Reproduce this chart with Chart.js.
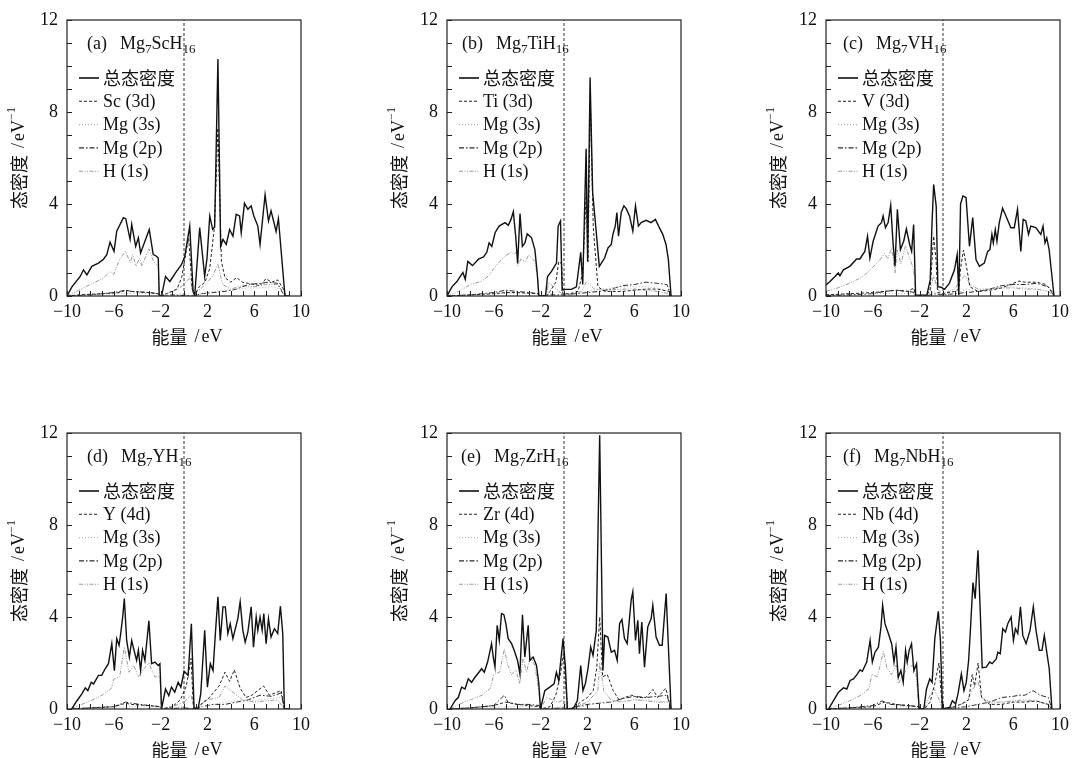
<!DOCTYPE html>
<html>
<head>
<meta charset="utf-8">
<script src="https://cdn.jsdelivr.net/npm/chart.js@4.4.1/dist/chart.umd.min.js"></script>
<style>
  html, body { margin: 0; padding: 0; background: #fff; overflow: hidden; }
  #wrap { position: relative; width: 1074px; height: 758px; }
  canvas { position: absolute; }
</style>
</head>
<body>
<div id="wrap">
  <canvas id="p0" width="315" height="346" style="left:0;top:0"></canvas>
  <canvas id="p1" width="315" height="346" style="left:380px;top:0"></canvas>
  <canvas id="p2" width="315" height="346" style="left:759px;top:0"></canvas>
  <canvas id="p3" width="315" height="346" style="left:0;top:413px"></canvas>
  <canvas id="p4" width="315" height="346" style="left:380px;top:413px"></canvas>
  <canvas id="p5" width="315" height="346" style="left:759px;top:413px"></canvas>
</div>
<script>
// density of states for Mg7MH16: [energy eV, DOS]

const panelLetters = ['(a)', '(b)', '(c)', '(d)', '(e)', '(f)'];
// formula pieces, odd entries are subscripts
const formulas = [
  ['Mg', '7', 'ScH', '16'],
  ['Mg', '7', 'TiH', '16'],
  ['Mg', '7', 'VH', '16'],
  ['Mg', '7', 'YH', '16'],
  ['Mg', '7', 'ZrH', '16'],
  ['Mg', '7', 'NbH', '16']
];
const dNames = ['Sc (3d)', 'Ti (3d)', 'V (3d)', 'Y (4d)', 'Zr (4d)', 'Nb (4d)'];
const otherNames = ['总态密度', 'Mg (3s)', 'Mg (2p)', 'H (1s)'];
const xTickLabels = [-10, -6, -2, 2, 6, 10];
const yTickLabels = [0, 4, 8, 12];
const fermiLevel = 0;

// (a) Mg7ScH16
const aTotal = [[-10,0],[-9.58,0.4],[-8.87,0.85],[-8.59,1.14],[-8.3,0.92],[-7.88,1.29],[-7.31,1.43],[-6.88,1.6],[-6.6,1.8],[-6.32,2.34],[-5.98,1.94],[-5.75,2.82],[-5.18,3.41],[-4.98,3.36],[-4.61,2.46],[-4.47,3.11],[-4.13,2.16],[-3.9,2.53],[-3.71,1.87],[-3.34,2.38],[-2.97,2.89],[-2.63,1.8],[-2.35,1.73],[-2.2,1.65],[-2.12,0.04],[-1.92,0],[-1.58,0.85],[-1.21,0.63],[-0.64,1.07],[-0.22,1.36],[0.07,1.73],[0.49,3.04],[0.78,0.19],[0.92,0.04],[1.34,2.97],[1.77,0.85],[1.97,1.65],[2.2,3.48],[2.45,2.9],[2.62,3.0],[2.9,10.3],[3.13,2.16],[3.33,2.46],[3.61,2.24],[3.9,2.89],[4.18,2.6],[4.46,3.55],[4.75,3.48],[4.89,2.75],[5.17,4.03],[5.46,3.77],[5.74,3.92],[5.97,3.48],[6.31,3.04],[6.5,2.24],[6.93,4.4],[7.22,3.26],[7.44,3.7],[7.73,3.11],[7.87,2.8],[8.07,3.36],[8.63,0],[9.0,0]];
const aD = [[-10,0],[-9,0.05],[-7,0.1],[-5.5,0.15],[-5,0.25],[-4.5,0.2],[-3,0.15],[-2.2,0.1],[-2,0],[-1.5,0.1],[-0.6,0.3],[-0.2,0.8],[0.2,2.0],[0.4,2.5],[0.7,0.3],[0.9,0.05],[1.3,0.4],[1.8,0.6],[2.2,1.2],[2.6,3.0],[2.9,7.3],[3.2,1.5],[3.5,0.8],[4.0,0.6],[4.5,0.8],[5,0.6],[5.5,0.55],[6,0.5],[6.5,0.45],[7,0.75],[7.5,0.6],[8,0.7],[8.5,0.3],[8.7,0]];
const aMg3s = [[-10,0],[-8,0.05],[-6,0.1],[-4,0.12],[-2.2,0.1],[-2.1,0],[-1,0.05],[0,0.1],[0.8,0],[1.5,0.1],[2.5,0.2],[3.5,0.25],[4.5,0.3],[5.5,0.35],[6.5,0.35],[7.5,0.4],[8.3,0.3],[8.6,0]];
const aMg2p = [[-10,0],[-8,0.05],[-6,0.15],[-5,0.25],[-4.5,0.2],[-3,0.15],[-2.2,0.1],[-2.1,0],[-1,0.05],[0.8,0],[1.5,0.1],[2.5,0.15],[3.5,0.2],[4.5,0.3],[5.5,0.5],[6.5,0.55],[7.2,0.6],[8,0.55],[8.6,0]];
const aH1s = [[-10,0],[-9,0.25],[-8,0.5],[-7,0.75],[-6.3,1.05],[-6,0.95],[-5.5,1.6],[-5,1.95],[-4.6,1.45],[-4.4,1.8],[-4.1,1.3],[-3.8,1.65],[-3.6,1.3],[-3,2.05],[-2.6,1.5],[-2.2,1.3],[-2.1,0],[-1.5,0.1],[-0.5,0.3],[0,0.5],[0.5,0.8],[0.8,0.05],[1.4,0.3],[2,0.6],[2.5,0.9],[2.9,1.4],[3.3,0.5],[4,0.3],[5,0.45],[6,0.4],[7,0.5],[8,0.5],[8.6,0]];

// (b) Mg7TiH16
const bTotal = [[-10,0],[-9.58,0.4],[-9.15,0.63],[-8.87,0.85],[-8.64,1.02],[-8.44,0.73],[-8.22,1.5],[-7.82,1.32],[-7.31,1.6],[-6.88,1.7],[-6.6,1.9],[-6.4,2.31],[-6.17,2.16],[-5.89,2.75],[-5.55,3.04],[-5.04,3.19],[-4.76,3.07],[-4.53,3.33],[-4.33,3.67],[-4.13,2.6],[-3.96,1.43],[-3.76,3.58],[-3.56,2.16],[-3.34,2.31],[-3.14,2.7],[-2.77,2.53],[-2.49,2.02],[-2.29,1.0],[-2.15,0],[-1.58,0],[-1.41,0.85],[-1.07,1.07],[-0.64,1.43],[-0.5,3.04],[-0.3,3.26],[-0.16,0.26],[0.01,0.29],[0.63,0.29],[1.06,0.4],[1.43,1.9],[1.6,0.5],[1.89,6.4],[2.02,1.5],[2.23,9.5],[2.45,4.5],[3.02,1.29],[3.47,1.65],[3.76,2.09],[4.04,2.24],[4.18,2.68],[4.38,3.04],[4.52,3.63],[4.66,2.6],[4.89,3.63],[5.12,3.92],[5.32,3.8],[5.6,3.48],[5.88,2.82],[6.11,3.92],[6.36,3.04],[6.59,3.19],[7.02,3.29],[7.44,3.19],[7.81,3.33],[8.15,2.97],[8.44,2.68],[8.72,2.24],[8.92,1.58],[9.15,0]];
const bD = [[-10,0],[-8,0.05],[-6,0.1],[-5,0.15],[-4,0.15],[-2.2,0.1],[-2.1,0],[-1.5,0],[-1.2,0.2],[-0.7,0.6],[-0.45,1.5],[-0.2,1.4],[-0.1,0.1],[0.5,0.1],[1.2,0.2],[1.6,1.0],[1.9,4.5],[2.05,1.5],[2.25,8.5],[2.5,3.0],[2.9,0.4],[3.5,0.2],[5,0.2],[6,0.25],[7,0.3],[8,0.3],[9,0.2],[9.15,0]];
const bMg3s = [[-10,0],[-8,0.05],[-6,0.1],[-4,0.12],[-2.2,0.1],[-2,0],[-1.3,0.1],[-0.5,0.2],[0,0.05],[1,0.1],[2,0.2],[3,0.3],[4,0.35],[5,0.4],[6,0.4],[7,0.4],[8,0.35],[9,0.2],[9.15,0]];
const bMg2p = [[-10,0],[-8,0.05],[-6,0.15],[-5,0.25],[-4,0.2],[-3,0.15],[-2.2,0.1],[-2,0],[-1.3,0.05],[0,0.05],[1,0.1],[2,0.15],[3,0.2],[4,0.3],[5,0.45],[6,0.5],[7,0.6],[8,0.55],[8.8,0.5],[9.15,0]];
const bH1s = [[-10,0],[-9,0.2],[-8,0.5],[-7,0.65],[-6.4,0.9],[-6,1.2],[-5.5,1.5],[-5,1.75],[-4.5,1.9],[-4.3,1.8],[-4.1,1.9],[-3.96,1.3],[-3.7,1.6],[-3.3,1.5],[-3,1.8],[-2.5,1.5],[-2.25,0.8],[-2.15,0],[-1.5,0],[-1.3,0.6],[-0.9,0.4],[-0.6,0.3],[-0.2,0.1],[0.5,0.05],[1.5,0.2],[1.9,0.6],[2.2,0.5],[2.6,0.3],[3.5,0.25],[5,0.3],[6,0.3],[7,0.25],[8,0.2],[9,0.1],[9.15,0]];

// (c) Mg7VH16
const cTotal = [[-10,0.48],[-9.66,0.63],[-9.23,0.85],[-8.95,1.0],[-8.81,0.88],[-8.52,1.14],[-7.96,1.29],[-7.39,1.61],[-7.11,1.61],[-6.68,1.94],[-6.45,2.6],[-6.25,1.65],[-5.97,2.38],[-5.55,3.04],[-5.26,3.19],[-5.12,3.48],[-4.92,2.97],[-4.69,3.19],[-4.47,3.95],[-4.27,2.31],[-4.1,1.29],[-3.9,3.77],[-3.64,2.02],[-3.36,2.38],[-3.13,2.92],[-2.85,2.24],[-2.68,1.94],[-2.51,3.11],[-2.34,0.04],[-1.38,0.04],[-1.09,0.7],[-0.95,3.0],[-0.8,4.85],[-0.58,3.9],[-0.44,0.41],[-0.16,0.38],[0.13,0.29],[0.55,0.56],[0.98,1.14],[1.21,1.8],[1.35,0.04],[1.5,4.0],[1.7,4.35],[1.97,4.28],[2.26,2.16],[2.54,3.41],[2.82,1.58],[3.11,1.29],[3.53,1.43],[3.82,1.94],[4.01,2.02],[4.18,2.68],[4.3,2.31],[4.47,2.89],[4.61,2.38],[4.81,3.19],[5.09,3.82],[5.38,3.48],[5.8,2.97],[6.09,2.97],[6.37,3.77],[6.65,1.94],[6.85,3.33],[7.08,3.26],[7.31,2.68],[7.5,3.04],[7.93,2.97],[8.36,2.68],[8.55,3.04],[8.72,2.31],[8.87,2.53],[9.07,2.02],[9.49,0]];
const cD = [[-10,0.05],[-8,0.1],[-6,0.15],[-5,0.2],[-4,0.25],[-3,0.2],[-2.5,0.35],[-2.35,0],[-1.4,0],[-1.1,0.3],[-0.8,2.6],[-0.6,1.6],[-0.45,0.15],[0,0.1],[1,0.2],[1.35,0.3],[1.5,1.2],[1.75,2.0],[2.0,1.3],[2.3,0.4],[3,0.2],[4,0.25],[5,0.35],[6,0.55],[6.5,0.65],[7,0.6],[8,0.6],[8.8,0.5],[9.3,0.2],[9.5,0]];
const cMg3s = [[-10,0.05],[-8,0.1],[-6,0.1],[-4,0.12],[-2.5,0.1],[-2.35,0],[-1.4,0],[-0.8,0.2],[0,0.05],[1,0.1],[2,0.3],[3,0.2],[4,0.3],[5,0.4],[6,0.4],[7,0.35],[8,0.3],[9,0.2],[9.5,0]];
const cMg2p = [[-10,0.02],[-8,0.05],[-6,0.1],[-5,0.2],[-4,0.25],[-3,0.2],[-2.4,0.15],[-2.35,0],[-1.4,0],[-0.8,0.1],[0,0.05],[1,0.1],[2,0.15],[3,0.2],[4,0.3],[5,0.45],[6,0.5],[7,0.5],[8,0.55],[9,0.4],[9.5,0]];
const cH1s = [[-10,0.2],[-9,0.35],[-8,0.55],[-7,0.8],[-6.5,1.0],[-6,1.25],[-5.5,1.5],[-5,1.85],[-4.7,1.6],[-4.4,2.1],[-4.1,1.0],[-3.9,2.0],[-3.6,1.4],[-3.2,2.2],[-2.9,1.7],[-2.6,1.3],[-2.4,0.8],[-2.35,0],[-1.4,0],[-1.1,0.2],[-0.8,0.9],[-0.5,0.3],[0,0.1],[1,0.3],[1.5,0.7],[1.9,0.9],[2.3,0.5],[3,0.3],[4,0.3],[5,0.35],[6,0.35],[7,0.3],[8,0.3],[9,0.2],[9.5,0]];

// (d) Mg7YH16
const dTotal = [[-9.6,0],[-9.15,0.36],[-8.73,0.66],[-8.44,0.92],[-8.22,0.8],[-7.93,1.16],[-7.73,1.09],[-7.31,1.46],[-7.03,1.46],[-6.74,1.75],[-6.46,1.97],[-6.17,2.84],[-5.95,1.67],[-5.75,3.06],[-5.55,2.77],[-5.41,3.28],[-5.24,4.0],[-5.1,4.8],[-4.9,2.98],[-4.67,2.26],[-4.47,2.98],[-4.27,2.55],[-4.05,2.11],[-3.9,2.55],[-3.71,1.67],[-3.54,2.55],[-3.34,2.11],[-3.0,3.83],[-2.77,1.97],[-2.49,2.04],[-2.2,1.89],[-2.06,1.97],[-1.92,0],[-1.58,0.87],[-1.3,0.58],[-1.07,0.95],[-0.79,0.73],[-0.5,1.16],[-0.27,0.95],[0.01,1.64],[0.35,1.46],[0.63,3.71],[0.86,0],[1.2,0],[1.43,0.66],[1.77,3.42],[2.0,0.95],[2.25,1.97],[2.48,1.67],[2.7,3.42],[2.9,4.88],[3.1,2.98],[3.33,4.44],[3.53,4.44],[3.75,3.28],[3.95,3.71],[4.18,3.06],[4.6,3.93],[4.8,4.66],[5.03,3.42],[5.23,2.91],[5.46,3.35],[5.74,4.44],[5.94,2.69],[6.17,4.0],[6.31,3.42],[6.5,4.0],[6.68,3.42],[6.82,4.15],[7.02,2.84],[7.22,3.93],[7.44,3.13],[7.73,3.49],[8.01,3.28],[8.24,4.47],[8.44,3.28],[8.58,0],[9.0,0]];
const dD = [[-9.6,0],[-8,0.05],[-6,0.1],[-5,0.25],[-4.5,0.2],[-3,0.15],[-2,0.1],[-1.9,0],[-1,0.1],[-0.3,0.4],[0.2,1.0],[0.6,2.2],[0.8,0.1],[1.2,0],[1.6,0.3],[2,0.4],[2.5,0.7],[3,1.0],[3.5,1.6],[3.9,1.2],[4.3,1.7],[4.8,0.9],[5.3,0.5],[5.8,0.6],[6.3,0.8],[6.8,1.0],[7.3,0.6],[7.8,0.7],[8.3,0.8],[8.58,0]];
const dMg3s = [[-9.6,0],[-8,0.05],[-6,0.08],[-4,0.1],[-2,0.08],[-1.9,0],[-1,0.05],[0,0.1],[0.86,0],[1.5,0.1],[2.5,0.2],[3.5,0.3],[4.5,0.35],[5.5,0.35],[6.5,0.4],[7.5,0.45],[8.3,0.5],[8.58,0]];
const dMg2p = [[-9.6,0],[-8,0.05],[-6,0.1],[-5,0.3],[-4.5,0.25],[-3,0.15],[-2,0.1],[-1.9,0],[0,0.05],[0.86,0],[1.5,0.1],[2.5,0.2],[3.5,0.2],[4.5,0.3],[5.5,0.4],[6.5,0.6],[7.5,0.55],[8.3,0.7],[8.58,0]];
const dH1s = [[-9.6,0],[-9,0.15],[-8,0.35],[-7,0.6],[-6.2,0.9],[-6,1.3],[-5.5,1.4],[-5.1,2.7],[-4.7,1.6],[-4.3,1.9],[-3.9,1.4],[-3.5,1.7],[-3,2.0],[-2.5,1.4],[-2.06,1.4],[-1.92,0],[-1,0.1],[0,0.3],[0.6,0.6],[0.86,0],[1.5,0.2],[2,0.4],[3,0.5],[3.5,1.0],[4,0.8],[5,0.4],[6,0.3],[7,0.35],[8,0.4],[8.58,0]];

// (e) Mg7ZrH16
const eTotal = [[-9.74,0],[-9.31,0.36],[-9.03,0.51],[-8.75,0.95],[-8.46,0.87],[-8.18,1.31],[-7.9,1.16],[-7.61,1.38],[-7.27,1.6],[-7.04,1.75],[-6.81,1.6],[-6.53,2.04],[-6.19,2.84],[-6.05,2.26],[-5.9,1.82],[-5.71,3.64],[-5.53,2.98],[-5.34,4.15],[-5.14,4.1],[-4.97,3.71],[-4.77,3.06],[-4.48,2.84],[-4.26,2.55],[-3.97,2.11],[-3.77,1.53],[-3.55,4.1],[-3.35,2.26],[-3.06,3.64],[-2.92,2.11],[-2.64,2.26],[-2.35,1.89],[-2.15,1.09],[-2.01,0],[-1.64,0.8],[-1.22,0.95],[-0.85,1.09],[-0.65,1.6],[-0.45,1.24],[-0.08,3.06],[0.12,1.82],[0.29,0],[0.77,0],[1.14,0.36],[1.43,1.89],[1.62,0.8],[1.82,1.09],[2.05,1.75],[2.28,2.69],[2.48,2.33],[2.76,3.42],[3.05,11.9],[3.33,1.67],[3.47,3.2],[3.75,3.13],[4.04,2.47],[4.32,2.55],[4.55,2.11],[4.75,3.71],[4.95,3.89],[5.17,3.06],[5.4,2.84],[5.74,4.73],[5.88,5.09],[6.11,2.98],[6.31,3.86],[6.45,2.4],[6.65,3.78],[6.88,1.82],[7.16,3.57],[7.45,3.93],[7.59,4.51],[7.87,3.13],[8.16,2.77],[8.39,2.77],[8.73,5.02],[9.15,0]];
const eD = [[-9.7,0],[-8,0.05],[-6,0.15],[-5,0.3],[-4,0.2],[-3,0.15],[-2.1,0.1],[-2.0,0],[-1.2,0.1],[-0.7,0.6],[-0.3,1.5],[-0.05,2.4],[0.15,1.0],[0.29,0],[0.8,0],[1.4,0.3],[2,0.5],[2.5,0.8],[2.8,1.8],[3.05,4.0],[3.3,1.4],[3.7,1.5],[4.2,0.8],[4.7,0.4],[5.2,0.5],[5.8,0.6],[6.3,0.5],[7,0.5],[7.6,0.85],[8,0.5],[8.7,0.9],[9.15,0]];
const eMg3s = [[-9.7,0],[-8,0.05],[-6,0.08],[-4,0.1],[-2.1,0.1],[-2.0,0],[-1,0.05],[0,0.1],[0.29,0],[1,0.05],[2,0.15],[3,0.3],[4,0.3],[5,0.35],[6,0.4],[7,0.4],[8,0.35],[9,0.3],[9.15,0]];
const eMg2p = [[-9.7,0],[-8,0.05],[-6,0.15],[-5.1,0.6],[-4.8,0.3],[-4,0.2],[-3,0.2],[-2.1,0.15],[-2.0,0],[0,0.05],[0.29,0],[1,0.1],[2,0.2],[3,0.25],[4,0.3],[5,0.45],[6,0.55],[7,0.5],[8,0.55],[8.8,0.6],[9.15,0]];
const eH1s = [[-9.7,0],[-9,0.2],[-8,0.4],[-7,0.6],[-6.3,0.9],[-6,1.5],[-5.5,1.6],[-5.1,2.6],[-4.8,1.9],[-4.5,1.5],[-4.1,1.7],[-3.8,1.1],[-3.5,2.2],[-3.2,1.6],[-2.9,2.3],[-2.5,1.9],[-2.15,0.8],[-2.0,0],[-1.5,0.5],[-1.0,0.4],[-0.5,0.3],[0,0.4],[0.29,0],[1,0.1],[2,0.3],[2.9,0.8],[3.05,2.0],[3.4,0.8],[4,0.4],[5,0.3],[6,0.4],[7,0.35],[8,0.3],[9,0.3],[9.15,0]];

// (f) Mg7NbH16
const fTotal = [[-9.78,0],[-9.36,0.36],[-8.93,0.73],[-8.5,0.92],[-8.22,0.87],[-7.94,1.24],[-7.65,1.31],[-7.31,1.53],[-7.09,1.7],[-6.89,1.64],[-6.52,2.04],[-6.23,2.98],[-6.04,2.04],[-5.81,2.47],[-5.52,2.69],[-5.3,3.57],[-5.16,4.51],[-4.96,3.71],[-4.67,3.28],[-4.39,2.84],[-4.19,2.04],[-4.02,2.69],[-3.82,1.38],[-3.6,1.67],[-3.4,1.16],[-3.2,2.55],[-3.06,2.04],[-2.89,2.55],[-2.69,2.84],[-2.49,1.67],[-2.26,1.97],[-2.04,0],[-1.64,0],[-1.41,0.87],[-1.13,1.31],[-0.93,1.16],[-0.7,3.06],[-0.4,4.25],[-0.22,2.98],[-0.05,0],[0.57,0.07],[0.8,0.36],[1.08,0.22],[1.28,0.66],[1.57,1.53],[1.79,0.8],[1.99,1.16],[2.19,2.11],[2.35,3.5],[2.56,5.5],[2.75,4.8],[2.99,6.9],[3.2,4.0],[3.35,1.8],[3.7,1.82],[3.98,2.04],[4.2,1.97],[4.55,2.18],[4.69,2.47],[4.89,2.4],[5.11,3.49],[5.34,3.35],[5.54,3.71],[5.82,4.0],[6.02,2.98],[6.19,3.49],[6.39,3.28],[6.62,4.44],[6.82,3.2],[7.1,2.84],[7.44,3.42],[7.72,4.44],[7.95,3.42],[8.23,2.55],[8.46,2.55],[8.66,3.2],[8.89,2.4],[9.08,1.75],[9.31,0]];
const fD = [[-9.8,0],[-8,0.05],[-6,0.1],[-5,0.3],[-4,0.2],[-3,0.15],[-2.1,0.1],[-2.0,0],[-1.6,0],[-1.1,0.3],[-0.7,1.1],[-0.35,2.0],[-0.15,0.6],[-0.05,0],[0.6,0.05],[1.5,0.2],[2.2,0.4],[2.5,1.5],[2.7,1.0],[3.0,2.0],[3.3,0.5],[4,0.2],[5,0.2],[6,0.3],[7,0.3],[8,0.35],[9,0.2],[9.3,0]];
const fMg3s = [[-9.8,0],[-8,0.05],[-6,0.08],[-4,0.1],[-2.1,0.1],[-2.0,0],[-1,0.05],[-0.05,0],[1,0.05],[2,0.1],[3,0.2],[4,0.25],[5,0.3],[6,0.35],[7,0.35],[8,0.3],[9,0.2],[9.3,0]];
const fMg2p = [[-9.8,0],[-8,0.05],[-6,0.15],[-5.2,0.35],[-4.5,0.2],[-3,0.15],[-2.1,0.1],[-2.0,0],[-0.05,0],[1,0.05],[2,0.1],[3,0.2],[4,0.3],[5,0.5],[6,0.55],[6.5,0.6],[7,0.6],[7.7,0.8],[8.3,0.6],[9,0.5],[9.3,0]];
const fH1s = [[-9.8,0],[-9,0.15],[-8,0.35],[-7,0.6],[-6.3,0.9],[-6.1,1.5],[-5.6,1.4],[-5.1,2.5],[-4.8,1.8],[-4.4,1.5],[-4.0,1.9],[-3.8,1.1],[-3.4,1.5],[-3,1.8],[-2.6,1.9],[-2.3,1.5],[-2.04,0],[-1.6,0],[-1.2,0.5],[-0.8,0.9],[-0.4,0.5],[-0.05,0],[1,0.1],[2,0.3],[2.6,0.9],[3.0,1.2],[3.3,0.5],[4,0.3],[5,0.3],[6,0.35],[7,0.4],[8,0.35],[9,0.2],[9.3,0]];

const panels = [
  [aTotal, aD, aMg3s, aMg2p, aH1s],
  [bTotal, bD, bMg3s, bMg2p, bH1s],
  [cTotal, cD, cMg3s, cMg2p, cH1s],
  [dTotal, dD, dMg3s, dMg2p, dH1s],
  [eTotal, eD, eMg3s, eMg2p, eH1s],
  [fTotal, fD, fMg3s, fMg2p, fH1s]
];
// horizontal offset of the "(x)" label from the frame, per panel
const labelOffsets = [20, 15, 17, 20, 14, 17];

const SERIF = '"Liberation Serif", "DejaVu Serif", serif';
const CJK = '"Noto Sans CJK SC", sans-serif';

// line styles: total, d, Mg 3s, Mg 2p, H 1s
const lineStyles = [
  { color: '#111', width: 1.4, dash: [] },
  { color: '#222', width: 1, dash: [3, 2] },
  { color: '#b4b4b4', width: 1, dash: [1, 2] },
  { color: '#2a2a2a', width: 1, dash: [5, 2, 1.5, 2] },
  { color: '#9a9a9a', width: 1, dash: [4, 1.5, 1, 1.5, 1, 1.5] }
];

Chart.defaults.font.family = SERIF;
Chart.defaults.font.size = 18;
Chart.defaults.color = '#111';

function toXY(arr) {
  return arr.map(p => ({ x: p[0], y: p[1] }));
}

function runsWidth(ctx, runs) {
  let w = 0;
  for (const r of runs) {
    ctx.font = r.font;
    w += ctx.measureText(r.t).width + (r.gap || 0);
  }
  return w;
}

function drawRuns(ctx, runs, x, y) {
  for (const r of runs) {
    ctx.font = r.font;
    ctx.fillText(r.t, x, y + (r.dy || 0));
    x += ctx.measureText(r.t).width + (r.gap || 0);
  }
  return x;
}

const panelDecor = {
  id: 'panelDecor',
  afterDraw(chart, args, opts) {
    const ctx = chart.ctx;
    const a = chart.chartArea;
    const xs = chart.scales.x, ys = chart.scales.y;
    const i = opts.index;
    ctx.save();

    // frame and inward ticks
    ctx.strokeStyle = '#222';
    ctx.lineWidth = 1.2;
    ctx.setLineDash([]);
    ctx.strokeRect(a.left, a.top, a.right - a.left, a.bottom - a.top);
    ctx.lineWidth = 1;
    ctx.beginPath();
    for (let v = -10; v <= 10; v++) {
      const px = Math.round(xs.getPixelForValue(v)) + 0.5;
      ctx.moveTo(px, a.bottom);
      ctx.lineTo(px, a.bottom - 5);
    }
    for (let v = 0; v <= 12; v++) {
      const py = Math.round(ys.getPixelForValue(v)) + 0.5;
      ctx.moveTo(a.left, py);
      ctx.lineTo(a.left + 5, py);
    }
    ctx.stroke();

    ctx.fillStyle = '#111';
    ctx.textBaseline = 'alphabetic';
    ctx.textAlign = 'left';

    // panel label and formula
    const runs = [{ t: panelLetters[i], font: '18px ' + SERIF, gap: 13 }];
    formulas[i].forEach((t, k) => {
      if (k % 2 === 0) runs.push({ t: t, font: '18px ' + SERIF });
      else runs.push({ t: t, font: '13px ' + SERIF, dy: 4 });
    });
    drawRuns(ctx, runs, a.left + labelOffsets[i], a.top + 29);

    // legend
    const names = [otherNames[0], dNames[i], otherNames[1], otherNames[2], otherNames[3]];
    ctx.textBaseline = 'middle';
    names.forEach((name, k) => {
      const yy = a.top + 58 + k * 23.3;
      const st = lineStyles[k];
      ctx.strokeStyle = st.color;
      ctx.lineWidth = k === 0 ? 1.6 : 1.1;
      ctx.setLineDash(st.dash);
      ctx.beginPath();
      ctx.moveTo(a.left + 12, yy);
      ctx.lineTo(a.left + 32, yy);
      ctx.stroke();
      ctx.font = (k === 0 ? '18px ' + CJK : '18px ' + SERIF);
      ctx.fillText(name, a.left + 36, yy + (k === 0 ? 0 : 1));
    });
    ctx.setLineDash([]);

    // x axis title
    const xt = [
      { t: '能量', font: '18px ' + CJK, gap: 7 },
      { t: '/', font: '18px ' + SERIF, gap: 2 },
      { t: 'eV', font: '18px ' + SERIF }
    ];
    const xw = runsWidth(ctx, xt);
    drawRuns(ctx, xt, (a.left + a.right) / 2 + 3 - xw / 2, 337);

    // y axis title, rotated
    const yt = [
      { t: '态密度', font: '18px ' + CJK, gap: 7 },
      { t: '/', font: '18px ' + SERIF, gap: 2 },
      { t: 'eV', font: '18px ' + SERIF },
      { t: '−1', font: '12px ' + SERIF, dy: -7 }
    ];
    const yw = runsWidth(ctx, yt);
    ctx.translate(19, 158);
    ctx.rotate(-Math.PI / 2);
    drawRuns(ctx, yt, -yw / 2, 0);

    ctx.restore();
  }
};

function makeChart(i) {
  const series = panels[i];
  const datasets = series.map((arr, k) => ({
    data: toXY(arr),
    borderColor: lineStyles[k].color,
    borderWidth: lineStyles[k].width,
    borderDash: lineStyles[k].dash,
    pointRadius: 0,
    tension: 0,
    fill: false
  }));
  datasets.push({
    data: [{ x: fermiLevel, y: 0 }, { x: fermiLevel, y: 12 }],
    borderColor: '#333',
    borderWidth: 1,
    borderDash: [3, 2],
    pointRadius: 0,
    fill: false
  });

  new Chart(document.getElementById('p' + i), {
    type: 'line',
    data: { datasets: datasets },
    options: {
      responsive: false,
      animation: false,
      layout: { padding: { left: 0, right: 13, top: 20, bottom: 0 } },
      plugins: {
        legend: { display: false },
        tooltip: { enabled: false },
        panelDecor: { index: i }
      },
      scales: {
        x: {
          type: 'linear',
          min: -10,
          max: 10,
          grid: { display: false, drawTicks: false },
          border: { display: false },
          ticks: {
            stepSize: 1,
            autoSkip: false,
            maxRotation: 0,
            padding: 5,
            callback: v => xTickLabels.includes(v) ? String(v).replace('-', '−') : ''
          },
          afterFit: s => { s.height = 50; }
        },
        y: {
          min: 0,
          max: 12,
          grid: { display: false, drawTicks: false },
          border: { display: false },
          ticks: {
            stepSize: 1,
            padding: 9,
            callback: v => yTickLabels.includes(v) ? String(v) : ''
          },
          afterFit: s => { s.width = 67; }
        }
      }
    },
    plugins: [panelDecor]
  });
}

for (let i = 0; i < 6; i++) makeChart(i);
</script>
</body>
</html>
